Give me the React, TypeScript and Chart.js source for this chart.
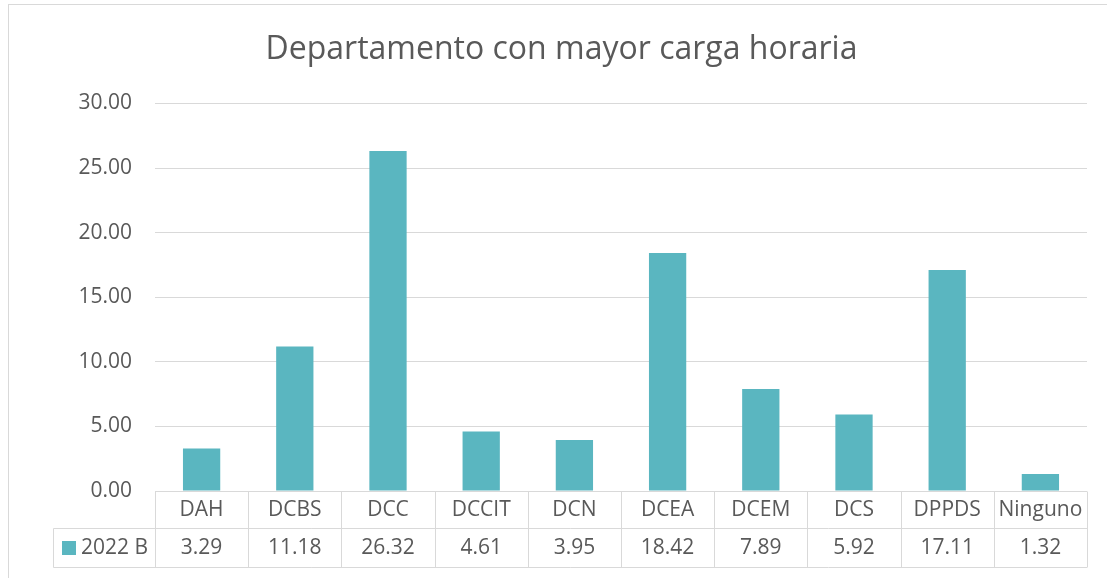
import React, { useEffect, useRef } from "react";
import { Chart, registerables } from "chart.js";

Chart.register(...registerables);

const categories = ["DAH", "DCBS", "DCC", "DCCIT", "DCN", "DCEA", "DCEM", "DCS", "DPPDS", "Ninguno"];
const values = [3.29, 11.18, 26.32, 4.61, 3.95, 18.42, 7.89, 5.92, 17.11, 1.32];
const valueLabels = ["3.29", "11.18", "26.32", "4.61", "3.95", "18.42", "7.89", "5.92", "17.11", "1.32"];
const seriesName = "2022 B";
const titleText = "Departamento con mayor carga horaria";

const BAR = "#5AB6C0";
const GRID = "#D9D9D9";
const TEXT = "#595959";
const FONT = "'Open Sans', sans-serif";

const framePlugin = {
  id: "frame",
  beforeDraw(chart: any) {
    const ctx = chart.ctx;
    ctx.save();
    ctx.fillStyle = "#ffffff";
    ctx.fillRect(0, 0, chart.width, chart.height);
    ctx.strokeStyle = GRID;
    ctx.lineWidth = 1;
    ctx.strokeRect(8.5, 4.5, chart.width + 20, chart.height + 20);
    ctx.restore();
  },
};

const tablePlugin = {
  id: "dataTable",
  afterDraw(chart: any) {
    const ctx = chart.ctx;
    const area = chart.chartArea;
    const n = categories.length;
    const cw = (area.right - area.left) / n;
    const y0 = Math.round(area.bottom) + 0.5;
    const y1 = y0 + 37;
    const y2 = y1 + 39;
    const legLeft = 53.5;
    ctx.save();
    ctx.strokeStyle = GRID;
    ctx.lineWidth = 1;
    ctx.beginPath();
    ctx.moveTo(area.left, y0);
    ctx.lineTo(area.right, y0);
    ctx.moveTo(legLeft, y1);
    ctx.lineTo(area.right, y1);
    ctx.moveTo(legLeft, y2);
    ctx.lineTo(area.right, y2);
    for (let i = 0; i <= n; i++) {
      const x = Math.round(area.left + cw * i) + 0.5;
      ctx.moveTo(x, y0);
      ctx.lineTo(x, y2);
    }
    ctx.moveTo(legLeft, y1);
    ctx.lineTo(legLeft, y2);
    ctx.stroke();

    ctx.fillStyle = TEXT;
    ctx.font = "21px " + FONT;
    ctx.textAlign = "center";
    ctx.textBaseline = "middle";
    const xScale = chart.scales.x;
    for (let i = 0; i < n; i++) {
      const cx = xScale.getPixelForValue(i);
      ctx.fillText(categories[i], cx, (y0 + y1) / 2);
      ctx.fillText(valueLabels[i], cx, (y1 + y2) / 2);
    }
    ctx.fillStyle = BAR;
    ctx.fillRect(62, (y1 + y2) / 2 - 7, 14, 14);
    ctx.fillStyle = TEXT;
    ctx.textAlign = "left";
    ctx.fillText(seriesName, 81, (y1 + y2) / 2);
    ctx.restore();
  },
};

export default function App() {
  const ref = useRef<HTMLCanvasElement>(null);
  useEffect(() => {
    document.body.style.margin = "0";
    const chart = new Chart(ref.current as HTMLCanvasElement, {
      type: "bar",
      data: {
        labels: categories,
        datasets: [
          {
            label: seriesName,
            data: values,
            backgroundColor: BAR,
            categoryPercentage: 1,
            barPercentage: 0.4,
          },
        ],
      },
      options: {
        responsive: false,
        animation: false,
        devicePixelRatio: 1,
        layout: { padding: { left: 36, right: 20, top: 0, bottom: 87 } },
        plugins: {
          legend: { display: false },
          tooltip: { enabled: false },
          title: {
            display: true,
            text: titleText,
            color: TEXT,
            font: { family: FONT, size: 32, weight: "normal", lineHeight: 1.2 },
            padding: { top: 31, bottom: 34 },
          },
        },
        scales: {
          x: { display: false },
          y: {
            min: 0,
            max: 30,
            afterFit: (s: any) => {
              s.width = 119;
            },
            border: { display: false },
            grid: { color: GRID, drawTicks: false },
            ticks: {
              stepSize: 5,
              padding: 23,
              color: TEXT,
              font: { family: FONT, size: 21 },
              callback: (v: any) => Number(v).toFixed(2),
            },
          },
        },
      },
      plugins: [framePlugin, tablePlugin],
    });
    return () => chart.destroy();
  }, []);
  return <canvas ref={ref} width={1107} height={578} style={{ display: "block" }} />;
}
